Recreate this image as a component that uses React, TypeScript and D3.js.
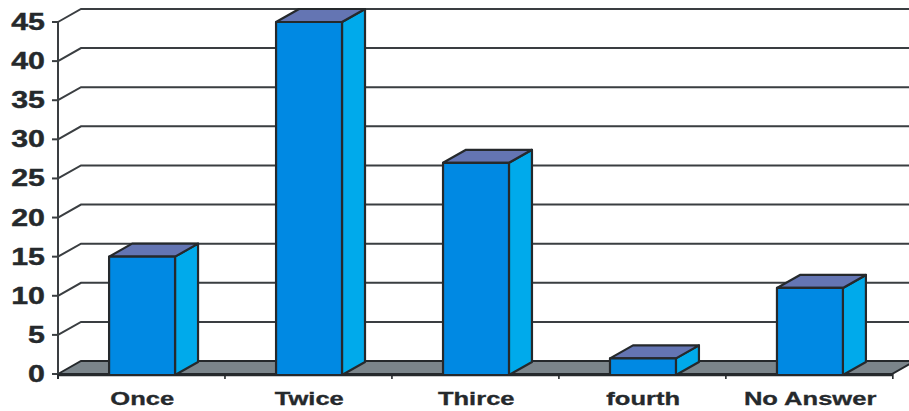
import React from "react";
import * as d3 from "d3";

const categories = ["Once", "Twice", "Thirce", "fourth", "No Answer"];
const counts = [15, 45, 27, 2, 11];
const yTicks = [0, 5, 10, 15, 20, 25, 30, 35, 40, 45];

const width = 909;
const height = 411;
const plot = { left: 58, right: 892, base: 374, top: 22 };
const depth = { dx: 23, dy: -13 };
const ink = "#25292c";
const colors = { floor: "#7b858b", front: "#0089e3", side: "#00aaeb", top: "#6475b3", grid: "#3a3e41" };

const y = d3.scaleLinear().domain([0, 45]).range([plot.base, plot.top]);
const x = d3
  .scaleBand<string>()
  .domain(categories)
  .range([plot.left, plot.right])
  .paddingInner(0.605)
  .paddingOuter(0.3)
  .align(0.51);

const poly = (pts: [number, number][]) => (d3.line()(pts) ?? "") + "Z";

export default function App() {
  const step = x.step();
  const edges = d3.range(categories.length + 1).map((i) => plot.left + i * step);
  return (
    <svg
      width={width}
      height={height}
      style={{ position: "fixed", left: 0, top: 0, background: "#fff" }}
      fontFamily="'Liberation Sans', Arial, sans-serif"
      fontWeight="bold"
    >
      {/* floor of the 3D box */}
      <path
        d={poly([
          [plot.left, plot.base],
          [plot.left + depth.dx, plot.base + depth.dy],
          [plot.right + depth.dx, plot.base + depth.dy],
          [plot.right, plot.base],
        ])}
        fill={colors.floor}
        stroke={ink}
        strokeWidth={2}
      />

      {/* gridlines: side wall diagonal plus back wall horizontal */}
      {yTicks.map((t) => (
        <g key={t} fill="none" stroke={colors.grid} strokeWidth={2}>
          {t > 0 && (
            <path
              d={d3.line()([
                [plot.left, y(t)],
                [plot.left + depth.dx, y(t) + depth.dy],
                [plot.right + depth.dx, y(t) + depth.dy],
              ]) ?? ""}
            />
          )}
          <line x1={plot.left - 6} x2={plot.left} y1={y(t)} y2={y(t)} />
        </g>
      ))}

      {/* value axis */}
      <line x1={plot.left} x2={plot.left} y1={plot.top} y2={plot.base + 5} stroke={colors.grid} strokeWidth={2} />
      {yTicks.map((t) => (
        <text
          key={t}
          transform={`translate(45,${y(t) + 8}) scale(1.32,1)`}
          textAnchor="end"
          fontSize={23}
          fill={ink}
          stroke={ink}
          strokeWidth={0.4}
        >
          {t}
        </text>
      ))}

      {/* category axis */}
      <line x1={plot.left} x2={plot.right} y1={plot.base + 1} y2={plot.base + 1} stroke={ink} strokeWidth={2.4} />
      {edges.map((e) => (
        <line key={e} x1={e} x2={e} y1={plot.base} y2={plot.base + 5} stroke={ink} strokeWidth={1.6} />
      ))}
      {categories.map((c, i) => (
        <text
          key={c}
          transform={`translate(${edges[i] + step / 2 + 0.8},405) scale(1.42,1)`}
          textAnchor="middle"
          fontSize={18}
          fill={ink}
          stroke={ink}
          strokeWidth={0.3}
        >
          {c}
        </text>
      ))}

      {/* bars: side, top, then front face */}
      {categories.map((c, i) => {
        const x0 = x(c) ?? 0;
        const x1 = x0 + x.bandwidth();
        const yTop = y(counts[i]);
        const yBase = plot.base + 1;
        const { dx, dy } = depth;
        return (
          <g key={c} stroke={ink} strokeWidth={2.2} strokeLinejoin="round">
            <path
              d={poly([
                [x1, yBase],
                [x1 + dx, yBase + dy],
                [x1 + dx, yTop + dy],
                [x1, yTop],
              ])}
              fill={colors.side}
            />
            <path
              d={poly([
                [x0, yTop],
                [x0 + dx, yTop + dy],
                [x1 + dx, yTop + dy],
                [x1, yTop],
              ])}
              fill={colors.top}
            />
            <rect x={x0} y={yTop} width={x1 - x0} height={yBase - yTop} fill={colors.front} />
          </g>
        );
      })}
    </svg>
  );
}
